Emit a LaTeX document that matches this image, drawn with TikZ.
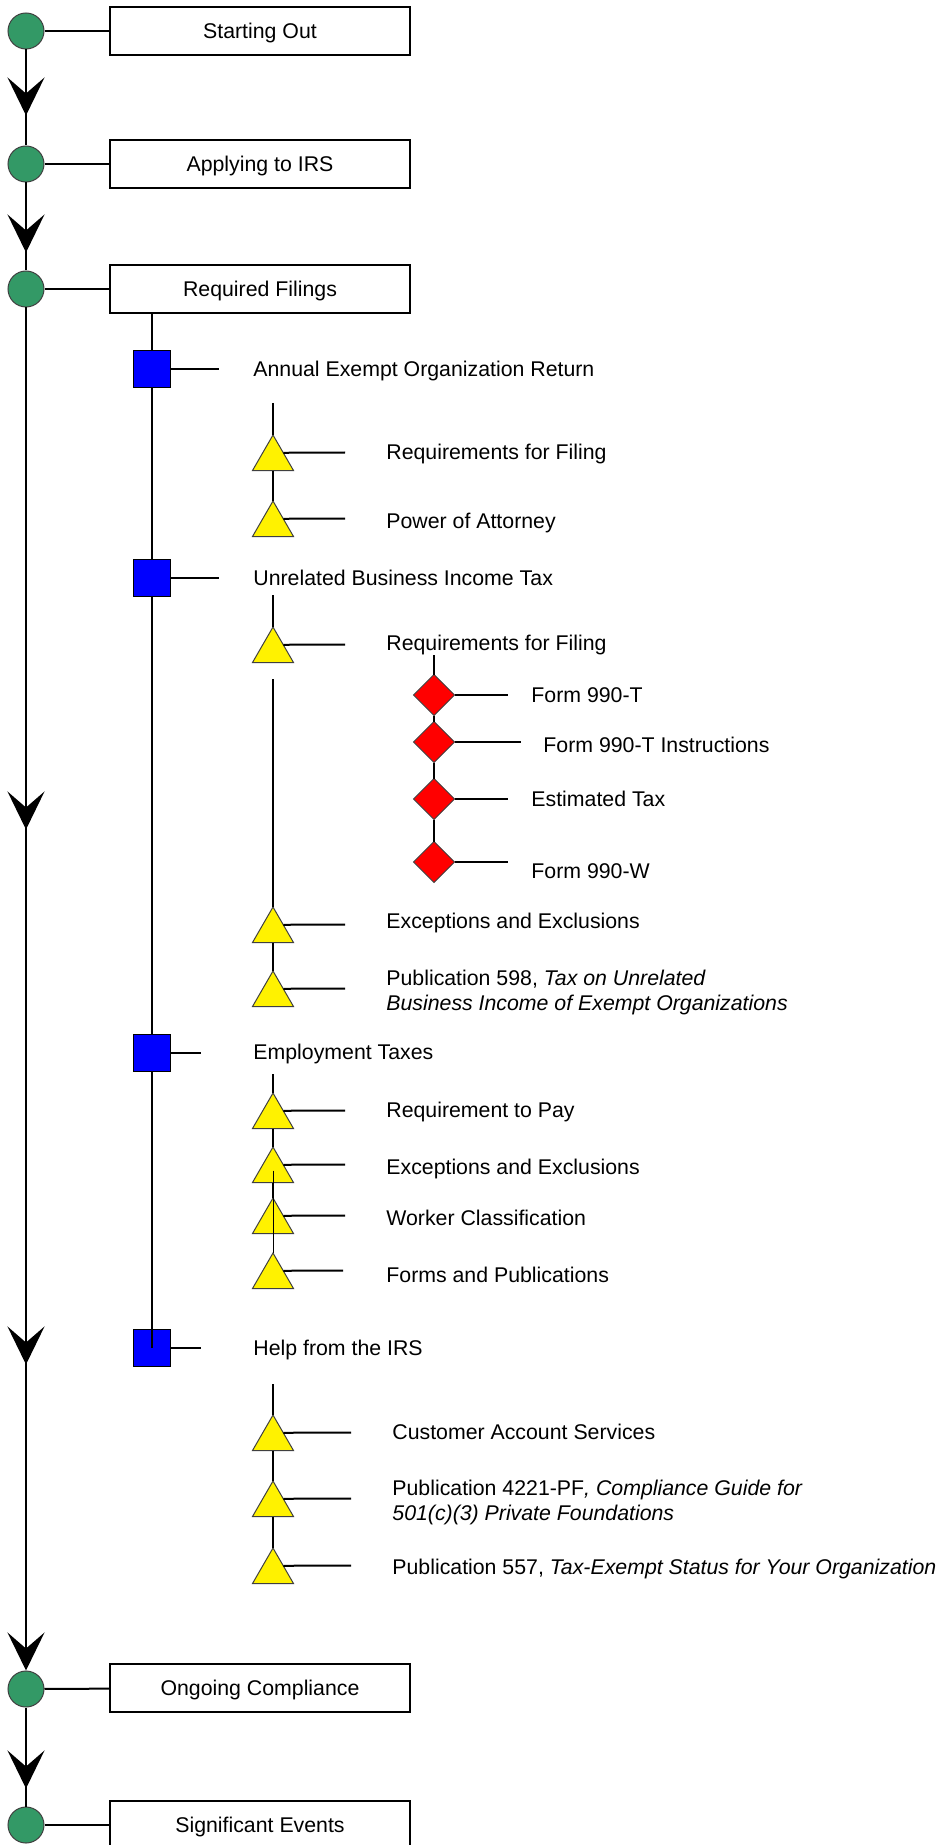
\documentclass[tikz,border=0pt]{standalone}
\usepackage{fontspec}
\setmainfont{Liberation Sans}
\usetikzlibrary{shapes.geometric,arrows.meta,decorations.markings,calc}
\definecolor{stagegreen}{RGB}{51,153,102}

\begin{document}
\begin{tikzpicture}[x=0.5pt,y=-0.5pt,
    >={Stealth[length=19pt,width=18.5pt,inset=8pt]},
    font=\fontsize{10.65}{12.5}\selectfont]
  \tikzstyle{stage}=[circle,draw=black!75,line width=0.5pt,fill=stagegreen,minimum size=18pt,inner sep=0pt]
  \tikzstyle{stagebox}=[rectangle,draw,line width=0.75pt,minimum width=150pt,minimum height=24pt,inner sep=0pt,text height=7.6pt,text depth=0pt]
  \tikzstyle{topic}=[rectangle,draw,line width=0.75pt,fill=blue,minimum size=18.5pt,inner sep=0pt]
  \tikzstyle{item}=[regular polygon,regular polygon sides=3,draw=black!75,line width=0.5pt,fill=yellow,minimum size=23.7pt,inner sep=0pt,outer sep=0pt,anchor=corner 1]
  \tikzstyle{form}=[diamond,aspect=1,draw=black!75,line width=0.5pt,fill=red,minimum size=20.5pt,inner sep=0pt,outer sep=0pt]
  \tikzstyle{entry}=[anchor=west,inner sep=0pt,align=left,text height=7.6pt,text depth=0pt]
  \tikzstyle{link}=[line width=1pt]
  \tikzstyle{thin link}=[line width=0.5pt]
  \tikzstyle{flow}=[link,postaction={decorate}]

  \useasboundingbox (0,0) rectangle (942,1845);

  % stages
  \node[stage] (c1) at (26,31) {};
  \node[stage] (c2) at (26,164) {};
  \node[stage] (c3) at (26,289) {};
  \node[stage] (c4) at (26,1689) {};
  \node[stage] (c5) at (26,1825) {};
  \node[stagebox] (b1) at (260,31) {Starting Out};
  \node[stagebox] (b2) at (260,164) {Applying to IRS};
  \node[stagebox] (b3) at (260,289) {Required Filings};
  \node[stagebox] (b4) at (260,1688) {Ongoing Compliance};
  \node[stagebox] (b5) at (260,1825) {Significant Events};

  \foreach \i in {1,...,5}
    \draw[link] (c\i) -- (b\i);

  \draw[flow,decoration={markings,mark=at position 33pt with {\arrow{>}}}] (c1) -- (c2);
  \draw[flow,decoration={markings,mark=at position 35pt with {\arrow{>}}}] (c2) -- (c3);
  \draw[flow,->,decoration={markings,mark=at position 261pt with {\arrow{>}},
      mark=at position 528.5pt with {\arrow{>}}}] (c3) -- (c4);
  \draw[flow,decoration={markings,mark=at position 40.5pt with {\arrow{>}}}] (c4) -- (c5);

  % topics
  \node[topic] (q1) at (152,369) {};
  \node[topic] (q2) at (152,578) {};
  \node[topic] (q3) at (152,1053) {};
  \node[topic] (q4) at (152,1348) {};
  \node[entry] (n1) at (253,369) {Annual Exempt Organization Return};
  \node[entry] (n2) at (253,578) {Unrelated Business Income Tax};
  \node[entry] (n3) at (253,1052) {Employment Taxes};
  \node[entry] (n4) at (253,1348) {Help from the IRS};
  \coordinate (q1e) at (219,369);
  \coordinate (q2e) at (219,578);
  \coordinate (q3e) at (201,1053);
  \coordinate (q4e) at (201,1348);
  \foreach \i in {1,...,4}
    \draw[link] (q\i) -- (q\i e);
  \draw[link] (b3.south -| q1) -- (q1);
  \draw[link] (q1) -- (q2);
  \draw[link] (q2) -- (q3);
  \draw[link] (q3) -- (q4.center);

  % items
  \foreach \n/\y/\e in {1/435/345,2/501/345,3/627/345,4/907/345,5/971/345,6/1093/345,
      7/1147/345,8/1198/345,9/1253/343,10/1415/351,11/1481/351,12/1548/351} {
    \node[item] (t\n) at (273,\y) {};
    \coordinate (t\n e) at (\e,\y+17.5);
    \draw[link] ($(t\n.corner 1)!.5!(t\n.corner 3)$) -- (t\n e);
  }
  \node[entry] (r1) at (386,452) {Requirements for Filing};
  \node[entry] (r2) at (386,521) {Power of Attorney};
  \node[entry] (r3) at (386,643) {Requirements for Filing};
  \node[entry] (r4) at (386,921) {Exceptions and Exclusions};
  \node[entry] (r5) at (386,1003) {Publication 598, \textit{Tax on Unrelated}\\\textit{Business Income of Exempt Organizations}};
  \node[entry] (r6) at (386,1110) {Requirement to Pay};
  \node[entry] (r7) at (386,1167) {Exceptions and Exclusions};
  \node[entry] (r8) at (386,1218) {Worker Classification};
  \node[entry] (r9) at (386,1275) {Forms and Publications};
  \node[entry] (r10) at (392,1432) {Customer Account Services};
  \node[entry] (r11) at (392,1513) {Publication 4221-PF\textit{, Compliance Guide for}\\\textit{501(c)(3) Private Foundations}};
  \node[entry] (r12) at (392,1567) {Publication 557, \textit{Tax-Exempt Status for Your Organization}};

  \coordinate (a1) at (273,403);
  \coordinate (a2) at (273,595);
  \coordinate (a3) at (273,679);
  \coordinate (a4) at (273,1074);
  \coordinate (a5) at (273,1384);
  \draw[link] (a1) -- (t1.corner 1);
  \draw[link] (t1.south) -- (t2.corner 1);
  \draw[link] (a2) -- (t3.corner 1);
  \draw[link] (a3) -- (t4.corner 1);
  \draw[link] (t4.south) -- (t5.corner 1);
  \draw[link] (a4) -- (t6.corner 1);
  \draw[link] (t6.south) -- (t7.corner 1);
  \draw[link] (t7.south) -- (t8.corner 1);
  \draw[thin link] (t7.center) -- (t9.corner 1);
  \draw[link] (a5) -- (t10.corner 1);
  \draw[link] (t10.south) -- (t11.corner 1);
  \draw[link] (t11.south) -- (t12.corner 1);

  % forms
  \node[form] (d1) at (434,695) {};
  \node[form] (d2) at (434,742) {};
  \node[form] (d3) at (434,799) {};
  \node[form] (d4) at (434,862) {};
  \node[entry] (f1) at (531,695) {Form 990-T};
  \node[entry] (f2) at (543,745) {Form 990-T Instructions};
  \node[entry] (f3) at (531,799) {Estimated Tax};
  \node[entry] (f4) at (531,871) {Form 990-W};
  \coordinate (a6) at (434,655);
  \coordinate (d1e) at (508,695);
  \coordinate (d2e) at (521,742);
  \coordinate (d3e) at (508,799);
  \coordinate (d4e) at (508,862);
  \draw[link] (a6) -- (d1);
  \draw[link] (d1) -- (d2);
  \draw[link] (d2) -- (d3);
  \draw[link] (d3) -- (d4);
  \foreach \i in {1,...,4}
    \draw[link] (d\i) -- (d\i e);
\end{tikzpicture}
\end{document}
